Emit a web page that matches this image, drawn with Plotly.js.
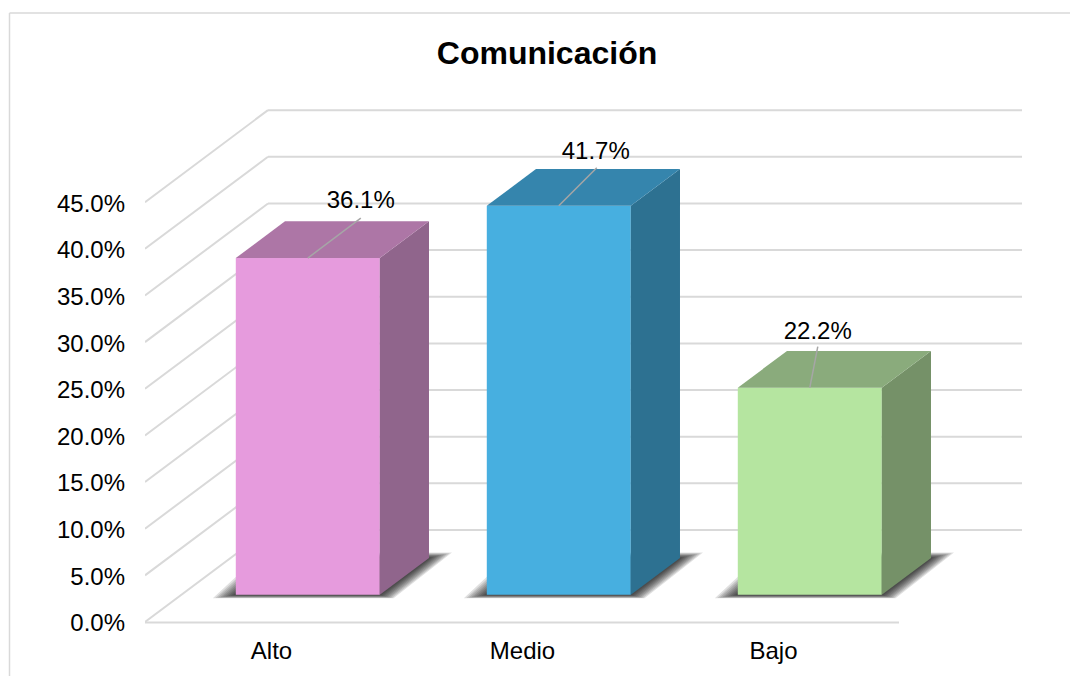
<!DOCTYPE html>
<html>
<head>
<meta charset="utf-8">
<script src="https://cdn.plot.ly/plotly-3.0.1.min.js"></script>
<style>html,body{margin:0;padding:0;background:#fff}#chart{width:1070px;height:676px}</style>
</head>
<body>
<div id="chart"></div>
<script>
// ---- data ----
const categories = ['Alto', 'Medio', 'Bajo'];
const values = [36.1, 41.7, 22.2];
const tickValues = [0, 5, 10, 15, 20, 25, 30, 35, 40, 45];
const tickLabels = ['0.0%', '5.0%', '10.0%', '15.0%', '20.0%', '25.0%', '30.0%', '35.0%', '40.0%', '45.0%'];
const frontColors = ['#E69BDD', '#47AFE0', '#B5E5A0'];
const topColors = ['#AD76A6', '#3585AD', '#8AAB7C'];
const sideColors = ['#90658C', '#2D7191', '#759168'];

// ---- geometry of the oblique projection, in axis units ----
const W = 1070, H = 676;
const M = {l: 145, r: 48, t: 90, b: 50};
const pxPerX = 251, pxPerY = 9.33;
const dx = px => px / pxPerX;
const dy = px => px / pxPerY;
const wallX = dx(123), wallY = dy(92);
const barFront = 0.295, barBack = 0.695, barWidth = dx(144);
const xRange = [-0.504, -0.504 + (W - M.l - M.r) / pxPerX];
const yRange = [-dy(4), -dy(4) + (H - M.b - M.t) / pxPerY];
const floorEnd = 2.5;

// projection: a point at category position c, height v and depth d
const P = (c, v, d) => [c + d * wallX, v + d * wallY];
const path = pts => 'M' + pts.map(p => p[0] + ',' + p[1]).join(' L') + ' Z';
const grid = {type: 'line', xref: 'x', yref: 'y', layer: 'below', line: {color: '#D9D9D9', width: 2}};

const shapes = [];
// chart frame (top and left)
const px2paperX = px => (px - M.l) / (W - M.l - M.r);
const px2paperY = py => (H - M.b - py) / (H - M.b - M.t);
[[9.5, 13, 1070, 13], [9.5, 13, 9.5, 676]].forEach(f => shapes.push({
  type: 'line', xref: 'paper', yref: 'paper', layer: 'below',
  x0: px2paperX(f[0]), y0: px2paperY(f[1]), x1: px2paperX(f[2]), y1: px2paperY(f[3]),
  line: {color: '#D9D9D9', width: 1.5}
}));
// walls: a diagonal on the side wall and a line on the back wall for every tick
tickValues.forEach(v => {
  const a = P(xRange[0], v, 0), b = P(xRange[0], v, 1);
  shapes.push(Object.assign({}, grid, {x0: a[0], y0: a[1], x1: b[0], y1: b[1]}));
  shapes.push(Object.assign({}, grid, {x0: b[0], y0: b[1], x1: xRange[1], y1: b[1]}));
});
shapes.push(Object.assign({}, grid, {x0: xRange[0], y0: -0.05, x1: floorEnd, y1: -0.05}));

// soft floor shadow: stacked translucent footprints
const shadowSteps = 9;
categories.forEach((c, i) => {
  const half = barWidth / 2;
  for (let s = shadowSteps; s >= 1; s--) {
    const t = s / shadowSteps;
    const fy = dy(3.5 * t), by = dy(5.5 * t), ex = dx(23 * t);
    const fl = P(i - half, 0, barFront), fr = P(i + half, 0, barFront);
    const br = P(i + half, 0, barBack), bl = P(i - half, 0, barBack);
    shapes.push({
      type: 'path', xref: 'x', yref: 'y', layer: 'below',
      path: path([[fl[0] - ex, fl[1] - fy], [fr[0] + ex * 0.6, fr[1] - fy],
                  [br[0] + ex, br[1] + by], [bl[0] - ex, bl[1] + by]]),
      fillcolor: 'rgba(0,0,0,0.12)', line: {width: 0}
    });
  }
});

const traces = [];
// front faces
traces.push({
  type: 'bar',
  x: categories.map((c, i) => i + barFront * wallX),
  y: values,
  base: values.map(() => barFront * wallY),
  width: barWidth,
  marker: {color: frontColors, line: {width: 0}},
  hoverinfo: 'skip', showlegend: false
});
// side and top faces
categories.forEach((c, i) => {
  const half = barWidth / 2, v = values[i];
  const a = P(i + half, 0, barFront), b = P(i + half, 0, barBack);
  const e = P(i + half, v, barBack), f = P(i + half, v, barFront);
  const g = P(i - half, v, barFront), h = P(i - half, v, barBack);
  traces.push({type: 'scatter', mode: 'lines', x: [a[0], b[0], e[0], f[0], a[0]], y: [a[1], b[1], e[1], f[1], a[1]],
    fill: 'toself', fillcolor: sideColors[i], line: {width: 0}, hoverinfo: 'skip', showlegend: false});
  traces.push({type: 'scatter', mode: 'lines', x: [g[0], f[0], e[0], h[0], g[0]], y: [g[1], f[1], e[1], h[1], g[1]],
    fill: 'toself', fillcolor: topColors[i], line: {width: 0}, hoverinfo: 'skip', showlegend: false});
});
// leader lines and data labels (offsets from the bar top, in pixels)
const leaderEnd = [[53, 40], [38, 38], [8, 41]];
const labelOffset = [[53, 56], [37, 53], [8, 55]];
categories.forEach((c, i) => {
  const o = P(i, values[i], barFront);
  traces.push({type: 'scatter', mode: 'lines',
    x: [o[0], o[0] + dx(leaderEnd[i][0])], y: [o[1], o[1] + dy(leaderEnd[i][1])],
    line: {color: '#A6A6A6', width: 1.5}, hoverinfo: 'skip', showlegend: false});
});
traces.push({
  type: 'scatter', mode: 'text',
  x: categories.map((c, i) => P(i, values[i], barFront)[0] + dx(labelOffset[i][0])),
  y: categories.map((c, i) => P(i, values[i], barFront)[1] + dy(labelOffset[i][1])),
  text: values.map(v => v.toFixed(1) + '%'),
  textposition: 'middle center',
  textfont: {family: 'Liberation Sans, Arial, sans-serif', size: 24, color: '#000'},
  hoverinfo: 'skip', showlegend: false, cliponaxis: false
});

const axisFont = {family: 'Liberation Sans, Arial, sans-serif', size: 24, color: '#000'};
const layout = {
  width: W, height: H,
  margin: M,
  paper_bgcolor: '#fff', plot_bgcolor: 'rgba(0,0,0,0)',
  showlegend: false,
  title: {text: 'Comunicación', x: 547 / W, xanchor: 'center', y: 1 - 53 / H, yanchor: 'middle',
    font: {family: 'Liberation Sans, Arial, sans-serif', size: 32, color: '#000', weight: 700}},
  xaxis: {range: xRange, tickmode: 'array', tickvals: categories.map((c, i) => i), ticktext: categories,
    showgrid: false, zeroline: false, showline: false, ticks: '', ticklabelstandoff: 8, tickfont: axisFont, fixedrange: true},
  yaxis: {range: yRange, tickmode: 'array', tickvals: tickValues, ticktext: tickLabels,
    showgrid: false, zeroline: false, showline: false, ticks: '', ticklabelstandoff: 19, ticklabelshift: 1, tickfont: axisFont, fixedrange: true},
  shapes: shapes
};
Plotly.newPlot('chart', traces, layout, {displayModeBar: false, staticPlot: true});
</script>
</body>
</html>
